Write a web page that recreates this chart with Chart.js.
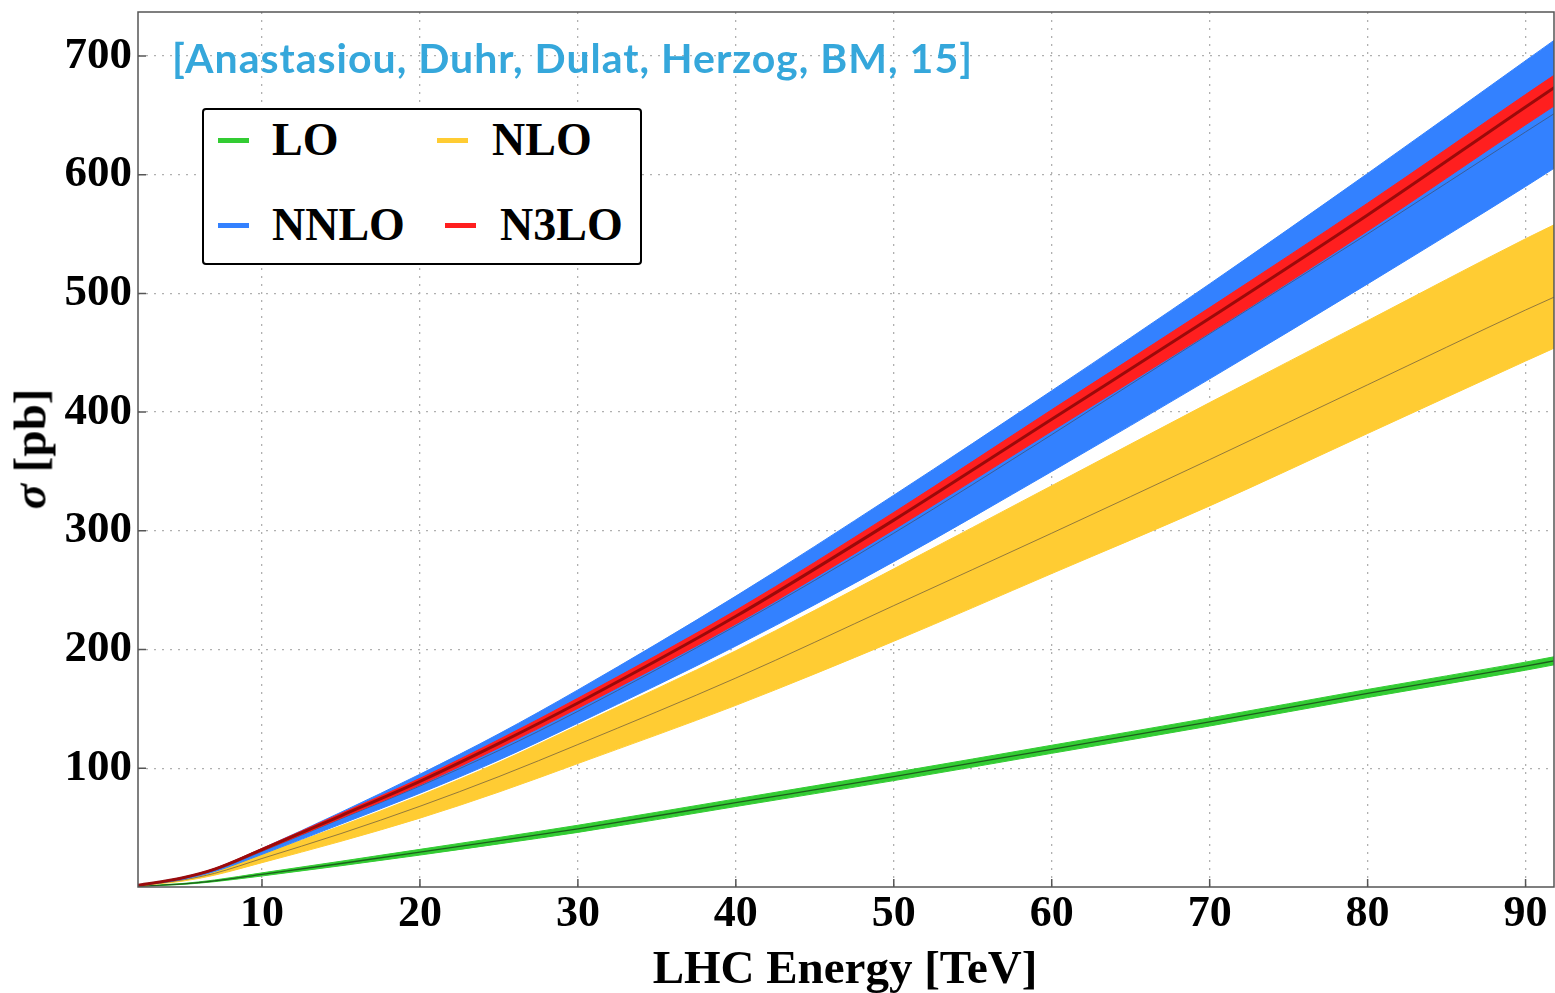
<!DOCTYPE html>
<html><head><meta charset="utf-8">
<script src="https://cdn.jsdelivr.net/npm/chart.js@4.4.0/dist/chart.umd.min.js"></script>
<style>
html,body{margin:0;padding:0;background:#fff;}
#wrap{position:relative;width:1555px;height:993px;overflow:hidden;background:#fff;}
canvas{position:absolute;left:0;top:0;}
.t{position:absolute;white-space:nowrap;line-height:1;}
.serif{font-family:"Liberation Serif","Times New Roman",serif;font-weight:bold;color:#000;}
#note{font-family:Lato,"Open Sans",sans-serif;font-weight:bold;font-size:41px;letter-spacing:1px;color:#35a7db;left:172px;top:37px;}
#legend{position:absolute;left:202px;top:108px;width:436px;height:153px;border:2px solid #000;border-radius:4px;background:#fff;}
.sw{position:absolute;height:5px;width:31px;}
.lt{position:absolute;font-size:46px;}
</style></head><body>
<div id="wrap">
<canvas id="c" width="1555" height="993"></canvas>
<div id="note" class="t">[Anastasiou, Duhr, Dulat, Herzog, BM, 15]</div>
<div id="legend"></div>
<div id="xt" class="t serif" style="font-size:47px;left:845px;top:944px;transform:translateX(-50%);">LHC Energy [TeV]</div>
<div id="yt" class="t serif" style="font-size:47px;left:30px;top:449px;transform:translate(-50%,-50%) rotate(-90deg);"><i>σ</i> [pb]</div>
</div>
<script>
// ---- data ----
const energy     = [2, 5, 7, 10, 15, 20, 25, 30, 40, 50, 60, 70, 80, 90, 92];

const loLower    = [0.5, 2.2, 4.5, 9.3, 17.9, 26.9, 36.3, 46, 67.8, 89.6, 112.6, 135.6, 159.6, 182.6, 187.6];
const loCentral  = [0.6, 2.6, 5.2, 10.6, 19.8, 29.3, 39, 49, 71, 93, 116, 139, 163, 186, 191];
const loUpper    = [0.7, 3.0, 5.9, 11.9, 21.7, 31.7, 41.7, 52, 74.2, 96.4, 119.4, 142.4, 166.4, 189.4, 194.4];

const nloLower   = [0.8, 5.0, 10, 20.5, 38.5, 58, 80, 104, 153, 207, 264, 321, 382, 443, 455];
const nloCentral = [0.9, 6.0, 11.5, 24, 45, 68, 93, 120, 176, 237, 298, 360, 423, 486, 498];
const nloUpper   = [1.0, 7.2, 13.5, 27.5, 51.5, 77, 105, 136, 199, 268, 338, 408, 477, 546, 559];

const nnloLower   = [1.0, 6.5, 13, 27.5, 53, 79, 107, 138, 203, 274, 350, 428, 508, 590, 607];
const nnloCentral = [1.1, 7.2, 14, 30, 57.5, 85, 115, 148, 220, 298, 381, 466, 550, 636, 653];
const nnloUpper   = [1.3, 8.3, 15.5, 32.5, 63, 95, 129, 166, 245, 330, 418, 508, 601, 696, 715];

const n3loLower   = [1.1, 7.4, 14.4, 30.5, 58, 86, 117.2, 150.5, 221.5, 301, 384, 467, 552.5, 642, 659.5];
const n3loCentral = [1.2, 7.8, 15, 31.5, 60, 89, 121, 155, 228, 309, 394, 479, 566, 657, 675];
const n3loUpper   = [1.3, 8.2, 15.6, 32.5, 62, 91.5, 124.2, 159, 233, 315.5, 402, 488, 576, 667.5, 685.5];

const seriesNames = ['LO', 'NLO', 'NNLO', 'N3LO'];
const xTicks = [10, 20, 30, 40, 50, 60, 70, 80, 90];
const yTicks = [100, 200, 300, 400, 500, 600, 700];

// ---- styles ----
const bandColors = ['#33cc33', '#ffcc33', '#3381ff', '#ff1f1f'];
const lineColors = ['rgba(25,75,25,0.85)', 'rgba(120,100,60,0.8)', 'rgba(60,90,140,0.9)', 'rgba(150,10,10,0.95)'];
const lineWidths = [1.3, 1, 1, 3];
const bands = [
  [loLower, loCentral, loUpper],
  [nloLower, nloCentral, nloUpper],
  [nnloLower, nnloCentral, nnloUpper],
  [n3loLower, n3loCentral, n3loUpper]
];

const pts = arr => arr.map((v, i) => ({x: energy[i], y: v}));
const datasets = [];
bands.forEach((b, k) => {
  const ord = 40 - k * 10;
  datasets.push({label: seriesNames[k] + ' low', data: pts(b[0]), borderColor: bandColors[k], borderWidth: 1,
    pointRadius: 0, fill: false, order: ord, cubicInterpolationMode: 'monotone'});
  datasets.push({label: seriesNames[k] + ' high', data: pts(b[2]), borderColor: bandColors[k], borderWidth: 1,
    backgroundColor: bandColors[k], pointRadius: 0, fill: '-1', order: ord, cubicInterpolationMode: 'monotone'});
  datasets.push({label: seriesNames[k], data: pts(b[1]), borderColor: lineColors[k], borderWidth: lineWidths[k],
    pointRadius: 0, fill: false, order: ord - 5, cubicInterpolationMode: 'monotone'});
});

// legend (HTML)
const legendPos = [[14, 30, 68, 7], [233, 30, 288, 7], [14, 115, 68, 92], [241, 115, 296, 92]];
const leg = document.getElementById('legend');
seriesNames.forEach((n, k) => {
  const p = legendPos[k];
  const sw = document.createElement('div');
  sw.className = 'sw'; sw.style.left = p[0] + 'px'; sw.style.top = (p[1] - 2.5) + 'px';
  sw.style.background = bandColors[k];
  leg.appendChild(sw);
  const t = document.createElement('div');
  t.className = 'lt t serif'; t.textContent = n;
  t.style.left = p[2] + 'px'; t.style.top = p[3] + 'px';
  leg.appendChild(t);
});

const framePlugin = {
  id: 'frame',
  afterDatasetsDraw(chart) {
    const {ctx, chartArea: a, scales} = chart;
    ctx.save();
    ctx.strokeStyle = '#555';
    ctx.lineWidth = 1.5;
    ctx.strokeRect(a.left, a.top, a.right - a.left, a.bottom - a.top);
    ctx.beginPath();
    xTicks.forEach(v => { const px = scales.x.getPixelForValue(v); ctx.moveTo(px, a.bottom); ctx.lineTo(px, a.bottom - 8); });
    yTicks.forEach(v => { const py = scales.y.getPixelForValue(v); ctx.moveTo(a.left, py); ctx.lineTo(a.left + 8, py); });
    ctx.stroke();
    ctx.restore();
  }
};

const noPad = s => { s.paddingTop = 0; s.paddingBottom = 0; s.paddingLeft = 0; s.paddingRight = 0; };
const tickFont = {family: '"Liberation Serif", "Times New Roman", serif', size: 44, weight: 'bold'};
new Chart(document.getElementById('c'), {
  type: 'line',
  data: {datasets},
  plugins: [framePlugin],
  options: {
    responsive: false,
    animation: false,
    events: [],
    layout: {padding: {top: 12, right: 1, left: 0, bottom: 0}},
    plugins: {legend: {display: false}, tooltip: {enabled: false}},
    scales: {
      x: {
        type: 'linear', min: 2.15, max: 91.8,
        afterBuildTicks: s => { s.ticks = xTicks.map(v => ({value: v})); },
        afterFit: s => { s.height = 106; noPad(s); },
        grid: {color: '#b0b0b0', lineWidth: 1.3, drawTicks: false, borderDash: [2, 6]},
        border: {display: false, dash: [2, 6]},
        ticks: {font: tickFont, color: '#000', padding: 1, maxRotation: 0, autoSkip: false}
      },
      y: {
        type: 'linear', min: 0, max: 737,
        afterBuildTicks: s => { s.ticks = yTicks.map(v => ({value: v})); },
        afterFit: s => { s.width = 138; noPad(s); },
        grid: {color: '#b0b0b0', lineWidth: 1.3, drawTicks: false, borderDash: [2, 6]},
        border: {display: false, dash: [2, 6]},
        ticks: {font: Object.assign({}, tickFont, {size: 45}), color: '#000', padding: 6, autoSkip: false}
      }
    }
  }
});
</script>
</body></html>
